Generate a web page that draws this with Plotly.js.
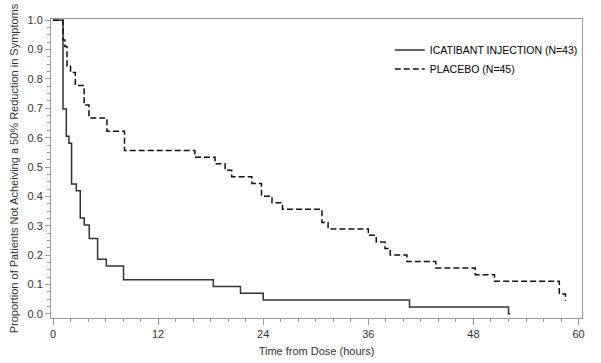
<!DOCTYPE html>
<html>
<head>
<meta charset="utf-8">
<script src="https://cdn.plot.ly/plotly-3.0.1.min.js"></script>
<style>html,body{margin:0;padding:0;background:#fff;}#chart{width:601px;height:363px;}</style>
</head>
<body>
<div id="chart"></div>
<script>
// Kaplan-Meier step data (hours, proportion)
const icatibantTime = [0, 1.14, 1.52, 1.82, 2.12, 2.66, 3.11, 3.57, 4.14, 5.09, 6.08, 8.05, 18.3, 21.4, 24.0, 40.7, 52.0, 52.2];
const icatibantSurv = [1, 0.698, 0.605, 0.581, 0.442, 0.419, 0.326, 0.302, 0.256, 0.186, 0.163, 0.116, 0.093, 0.070, 0.047, 0.023, 0.0, 0.0];

const placeboTime = [0, 1.14, 1.35, 1.6, 2.0, 2.55, 3.55, 4.1, 6.16, 8.16, 16.2, 18.5, 19.65, 20.4, 22.7, 23.8, 25.0, 26.2, 30.7, 31.4, 36.0, 36.9, 37.9, 38.5, 40.4, 43.7, 48.2, 50.4, 57.8, 58.5];
const placeboSurv = [1, 0.933, 0.911, 0.844, 0.822, 0.778, 0.711, 0.667, 0.622, 0.556, 0.533, 0.511, 0.489, 0.467, 0.444, 0.400, 0.378, 0.356, 0.311, 0.289, 0.267, 0.244, 0.222, 0.200, 0.178, 0.156, 0.133, 0.111, 0.067, 0.044];

const seriesNames = ['ICATIBANT INJECTION (N=43)', 'PLACEBO (N=45)'];
const xTicks = [0, 12, 24, 36, 48, 60];
const yTicks = [0, 0.1, 0.2, 0.3, 0.4, 0.5, 0.6, 0.7, 0.8, 0.9, 1.0];

const FONT = '"Liberation Sans Narrow", "Arial Narrow", "Liberation Sans", Arial, sans-serif';

const traces = [
  {x: icatibantTime, y: icatibantSurv, name: seriesNames[0], type: 'scatter', mode: 'lines',
   line: {shape: 'hv', color: '#333333', width: 1.5}},
  {x: placeboTime, y: placeboSurv, name: seriesNames[1], type: 'scatter', mode: 'lines',
   line: {shape: 'hv', color: '#111111', width: 1.5, dash: '6px,3px'}}
];

const layout = {
  width: 601, height: 363,
  margin: {l: 51, r: 19, t: 19, b: 45},
  paper_bgcolor: '#fff', plot_bgcolor: '#fff',
  font: {family: FONT, size: 11, color: '#333'},
  showlegend: true,
  legend: {x: 0.638, y: 0.945, xanchor: 'left', yanchor: 'top', bgcolor: 'rgba(0,0,0,0)',
           font: {family: FONT, size: 10.5, color: '#000'}, tracegroupgap: 0},
  xaxis: {
    range: [-0.23, 60.39], tickvals: xTicks, ticktext: xTicks.map(String),
    ticks: 'outside', ticklen: 6, tickcolor: '#999', tickwidth: 1,
    minor: {dtick: 2, tick0: 0, ticks: 'outside', ticklen: 3, tickcolor: '#999', showgrid: false},
    showline: true, linecolor: '#999', linewidth: 1, mirror: true,
    showgrid: false, zeroline: false,
    title: {text: 'Time from Dose (hours)', font: {family: FONT, size: 11, color: '#333'}, standoff: 8},
    automargin: false
  },
  yaxis: {
    range: [-0.0146, 1.0044], tickvals: yTicks, ticktext: yTicks.map(v => v.toFixed(1)),
    ticks: 'outside', ticklen: 5, tickcolor: '#999', tickwidth: 1,
    minor: {dtick: 0.025, tick0: 0, ticks: 'outside', ticklen: 3, tickcolor: '#999', showgrid: false},
    showline: true, linecolor: '#999', linewidth: 1, mirror: true,
    showgrid: false, zeroline: false,
    title: {text: 'Proportion of Patients Not Acheiving a 50% Reduction in Symptoms', font: {family: FONT, size: 11, color: '#333'}, standoff: 6},
    automargin: false
  }
};

Plotly.newPlot('chart', traces, layout, {displayModeBar: false, staticPlot: true});
</script>
</body>
</html>
